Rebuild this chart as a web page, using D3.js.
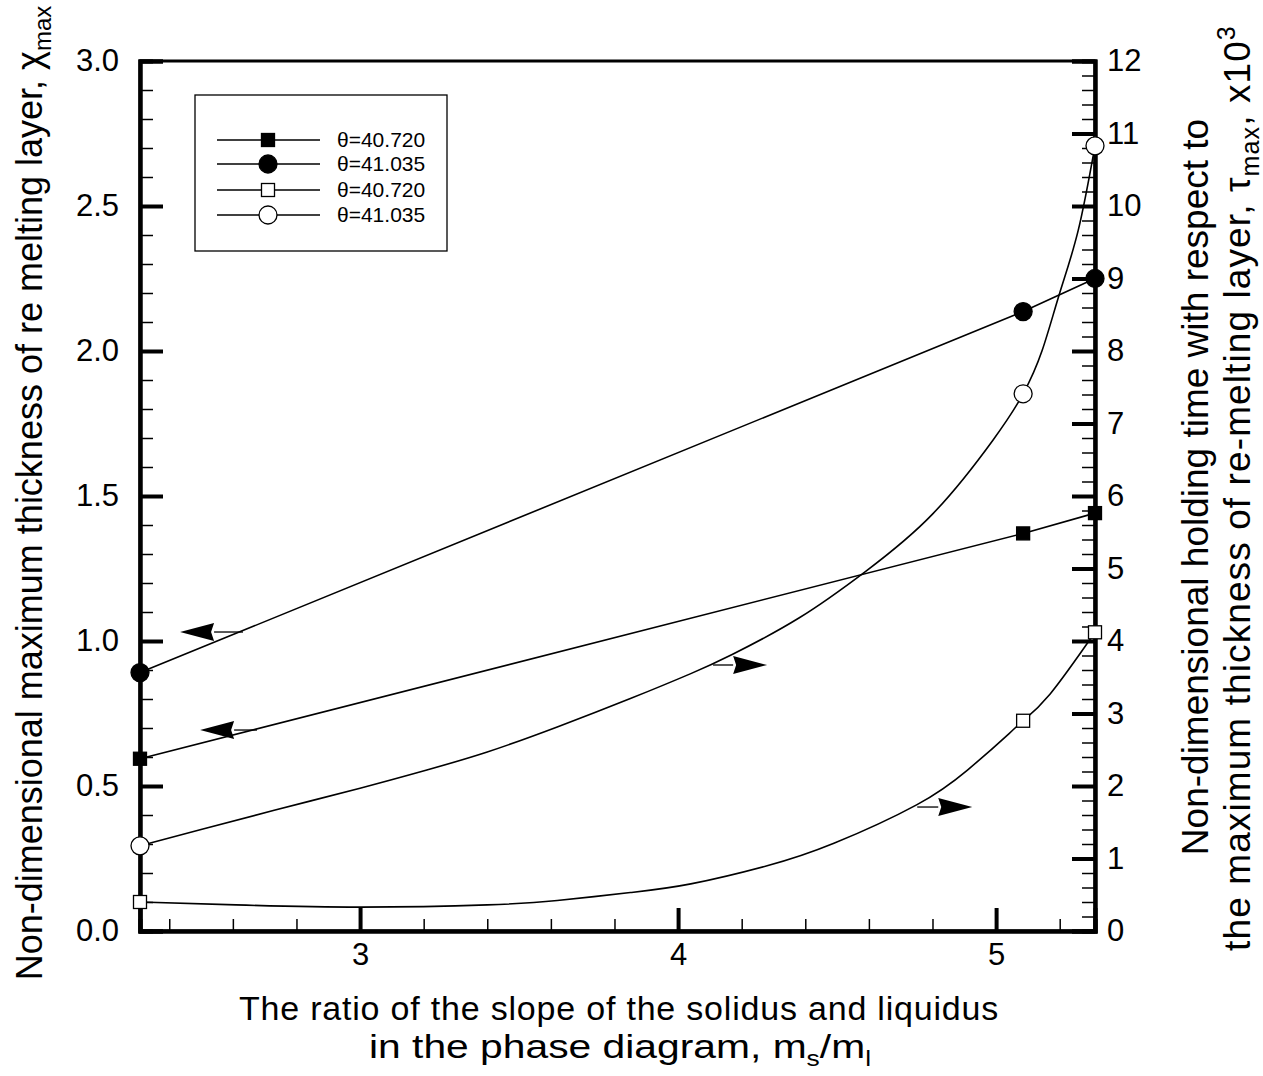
<!DOCTYPE html>
<html>
<head>
<meta charset="utf-8">
<script src="https://cdn.jsdelivr.net/npm/d3@7"></script>
<style>
  body { margin: 0; background: #fff; }
  text { font-family: "Liberation Sans", Arial, Helvetica, sans-serif; fill: #000; }
</style>
</head>
<body>
<svg id="chart" width="1263" height="1076"></svg>
<script>
// ratio of slopes m_s/m_l where the runs were done (markers)
var ratio = [2.308, 5.085, 5.311];

// left axis: max thickness of re-melting layer, chi_max
var chi40720 = [0.594, 1.371, 1.441];
var chi41035 = [0.891, 2.136, 2.250];

// right axis: holding time, tau_max x10^3
var tau40720 = [0.40, 2.90, 4.12];
var tau41035 = [1.175, 7.41, 10.83];

// the tau lines
var tau40720LineX = [2.308, 2.61, 3.00, 3.40, 3.62, 3.85, 4.04, 4.28, 4.49, 4.75, 4.91, 5.04, 5.085, 5.17, 5.311];
var tau40720Line  = [0.40, 0.36, 0.33, 0.36, 0.42, 0.53, 0.65, 0.90, 1.21, 1.74, 2.22, 2.72, 2.90, 3.27, 4.12];
var tau41035LineX = [2.308, 2.50, 2.73, 3.00, 3.21, 3.40, 3.62, 3.85, 4.04, 4.17, 4.38, 4.59, 4.80, 4.99, 5.085, 5.145, 5.20, 5.258, 5.311];
var tau41035Line  = [1.175, 1.40, 1.665, 1.97, 2.221, 2.469, 2.814, 3.206, 3.550, 3.814, 4.317, 4.961, 5.75, 6.77, 7.41, 8.01, 8.80, 9.66, 10.83];

// axis ticks
var xTicks = [3, 4, 5];
var chiTicks = [0, 0.5, 1.0, 1.5, 2.0, 2.5, 3.0];
var tauTicks = d3.range(0, 13);

// legend
var legendLabels = ["\u03b8=40.720", "\u03b8=41.035", "\u03b8=40.720", "\u03b8=41.035"];

// arrows telling which axis a curve belongs to: [tail x, tip x, value, axis]
var arrows = [
  [2.632, 2.434, 1.031, "chi"],
  [2.676, 2.497, 0.693, "chi"],
  [4.110, 4.280, 3.669, "tau"],
  [4.752, 4.925, 1.710, "tau"]
];

var svg = d3.select("#chart");
var L = 140, R = 1095, T = 61, B = 931;

var x = d3.scaleLinear().domain([2.308, 5.311]).range([L, R]);
var yChi = d3.scaleLinear().domain([0, 3]).range([B, T]);
var yTau = d3.scaleLinear().domain([0, 12]).range([B, T]);

// frame
svg.append("rect")
  .attr("x", L).attr("y", T).attr("width", R - L).attr("height", B - T)
  .attr("fill", "none").attr("stroke", "#000").attr("stroke-width", 3);

function styleAxis(g, w) {
  g.select(".domain").attr("stroke-width", 4);
  g.selectAll(".tick line").attr("stroke-width", w);
  g.selectAll("text").style("font-size", "31px")
    .style("font-family", '"Liberation Sans", Arial, sans-serif');
}

// bottom axis
var xMinor = d3.range(2.4, 5.31, 0.2).filter(function(v) { return Math.abs(v - Math.round(v)) > 0.01; });
svg.append("g").attr("transform", "translate(0," + B + ")")
  .call(d3.axisBottom(x).tickValues(xMinor).tickSize(-12).tickFormat(""))
  .call(styleAxis, 1.5);
svg.append("g").attr("transform", "translate(0," + B + ")")
  .call(d3.axisBottom(x).tickValues(xTicks).tickSize(-23).tickPadding(12).tickFormat(d3.format("d")))
  .call(styleAxis, 4);

// left axis
var chiMinor = d3.range(0.1, 3.0, 0.1).filter(function(v) { return Math.abs(v * 2 - Math.round(v * 2)) > 0.01; });
svg.append("g").attr("transform", "translate(" + L + ",0)")
  .call(d3.axisLeft(yChi).tickValues(chiMinor).tickSize(-13).tickFormat(""))
  .call(styleAxis, 1.5);
svg.append("g").attr("transform", "translate(" + L + ",0)")
  .call(d3.axisLeft(yChi).tickValues(chiTicks).tickSize(-23).tickPadding(21).tickFormat(d3.format(".1f")))
  .call(styleAxis, 4);

// right axis
var tauMinor = d3.range(0.2, 12, 0.2).filter(function(v) { return Math.abs(v - Math.round(v)) > 0.01; });
svg.append("g").attr("transform", "translate(" + R + ",0)")
  .call(d3.axisRight(yTau).tickValues(tauMinor).tickSize(-13).tickFormat(""))
  .call(styleAxis, 1.5);
svg.append("g").attr("transform", "translate(" + R + ",0)")
  .call(d3.axisRight(yTau).tickValues(tauTicks).tickSize(-23).tickPadding(12).tickFormat(d3.format("d")))
  .call(styleAxis, 4);

// lines
function pts(xs, ys) { return xs.map(function(v, i) { return [v, ys[i]]; }); }

var lineChi = d3.line().x(function(d) { return x(d[0]); }).y(function(d) { return yChi(d[1]); });
var lineTau = d3.line().x(function(d) { return x(d[0]); }).y(function(d) { return yTau(d[1]); })
  .curve(d3.curveNatural);

var plot = svg.append("g");
[[pts(ratio, chi40720), lineChi], [pts(ratio, chi41035), lineChi],
 [pts(tau40720LineX, tau40720Line), lineTau], [pts(tau41035LineX, tau41035Line), lineTau]]
  .forEach(function(s) {
    plot.append("path").attr("d", s[1](s[0]))
      .attr("fill", "none").attr("stroke", "#000").attr("stroke-width", 1.6);
  });

// markers
function squares(g, data, y, fill) {
  g.selectAll(null).data(data).enter().append("rect")
    .attr("x", function(d) { return x(d[0]) - 6.5; })
    .attr("y", function(d) { return y(d[1]) - 6.5; })
    .attr("width", 13).attr("height", 13)
    .attr("fill", fill).attr("stroke", "#000").attr("stroke-width", 1.3);
}
function circles(g, data, y, fill) {
  g.selectAll(null).data(data).enter().append("circle")
    .attr("cx", function(d) { return x(d[0]); })
    .attr("cy", function(d) { return y(d[1]); })
    .attr("r", 9)
    .attr("fill", fill).attr("stroke", "#000").attr("stroke-width", 1.3);
}
squares(plot, pts(ratio, chi40720), yChi, "#000");
circles(plot, pts(ratio, chi41035), yChi, "#000");
squares(plot, pts(ratio, tau40720), yTau, "#fff");
circles(plot, pts(ratio, tau41035), yTau, "#fff");

// arrows
arrows.forEach(function(a) {
  var y = a[3] === "chi" ? yChi : yTau;
  var tx = x(a[0]), hx = x(a[1]), yy = y(a[2]);
  var dir = hx < tx ? -1 : 1;
  var bx = hx - dir * 34;
  svg.append("line").attr("x1", tx).attr("y1", yy).attr("x2", bx).attr("y2", yy)
    .attr("stroke", "#000").attr("stroke-width", 1.3);
  svg.append("path")
    .attr("d", "M" + hx + "," + yy + "L" + bx + "," + (yy - 9) + "L" + (bx + dir * 3) + "," + yy +
      "L" + bx + "," + (yy + 9) + "Z")
    .attr("fill", "#000");
});

// legend
var lg = svg.append("g");
lg.append("rect").attr("x", 195).attr("y", 95).attr("width", 252).attr("height", 156)
  .attr("fill", "#fff").attr("stroke", "#000").attr("stroke-width", 1.3);
var rowY = [140, 164, 190, 215];
legendLabels.forEach(function(lab, i) {
  var yy = rowY[i];
  lg.append("line").attr("x1", 217).attr("x2", 320).attr("y1", yy).attr("y2", yy)
    .attr("stroke", "#000").attr("stroke-width", 1.3);
  var fill = i < 2 ? "#000" : "#fff";
  if (i % 2 === 0) {
    lg.append("rect").attr("x", 268 - 6.5).attr("y", yy - 6.5).attr("width", 13).attr("height", 13)
      .attr("fill", fill).attr("stroke", "#000").attr("stroke-width", 1.3);
  } else {
    lg.append("circle").attr("cx", 268).attr("cy", yy).attr("r", 9)
      .attr("fill", fill).attr("stroke", "#000").attr("stroke-width", 1.3);
  }
  lg.append("text").attr("x", 337).attr("y", yy).attr("dy", "0.35em")
    .style("font-size", "21px").text(lab);
});

// axis titles
svg.append("text").attr("text-anchor", "middle").style("font-size", "34px")
  .style("letter-spacing", "0.8px")
  .attr("x", 619).attr("y", 1020)
  .text("The ratio of the slope of the solidus and liquidus");
var xt2 = svg.append("text").attr("text-anchor", "middle").style("font-size", "34px")
  .attr("transform", "translate(620,1058) scale(1.2,1)");
xt2.append("tspan").text("in the phase diagram, m");
xt2.append("tspan").attr("dy", 8).style("font-size", "22px").text("s");
xt2.append("tspan").attr("dy", -8).text("/m");
xt2.append("tspan").attr("dy", 8).style("font-size", "22px").text("l");

var yl = svg.append("text").attr("text-anchor", "middle").style("font-size", "36px")
  .attr("transform", "translate(42,493) rotate(-90)");
yl.append("tspan").text("Non-dimensional maximum thickness of re melting layer, \u03c7");
yl.append("tspan").attr("dy", 9).style("font-size", "24px").text("max");

svg.append("text").attr("text-anchor", "middle").style("font-size", "37px")
  .attr("transform", "translate(1208,487) rotate(-90)")
  .text("Non-dimensional holding time with respect to");
var yr2 = svg.append("text").attr("text-anchor", "middle").style("font-size", "37px")
  .style("letter-spacing", "1.1px")
  .attr("transform", "translate(1250,488) rotate(-90)");
yr2.append("tspan").text("the maximum thickness of re-melting layer, \u03c4");
yr2.append("tspan").attr("dy", 9).style("font-size", "25px").text("max");
yr2.append("tspan").attr("dy", -9).text(", x10");
yr2.append("tspan").attr("dy", -15).style("font-size", "25px").text("3");
</script>
</body>
</html>
